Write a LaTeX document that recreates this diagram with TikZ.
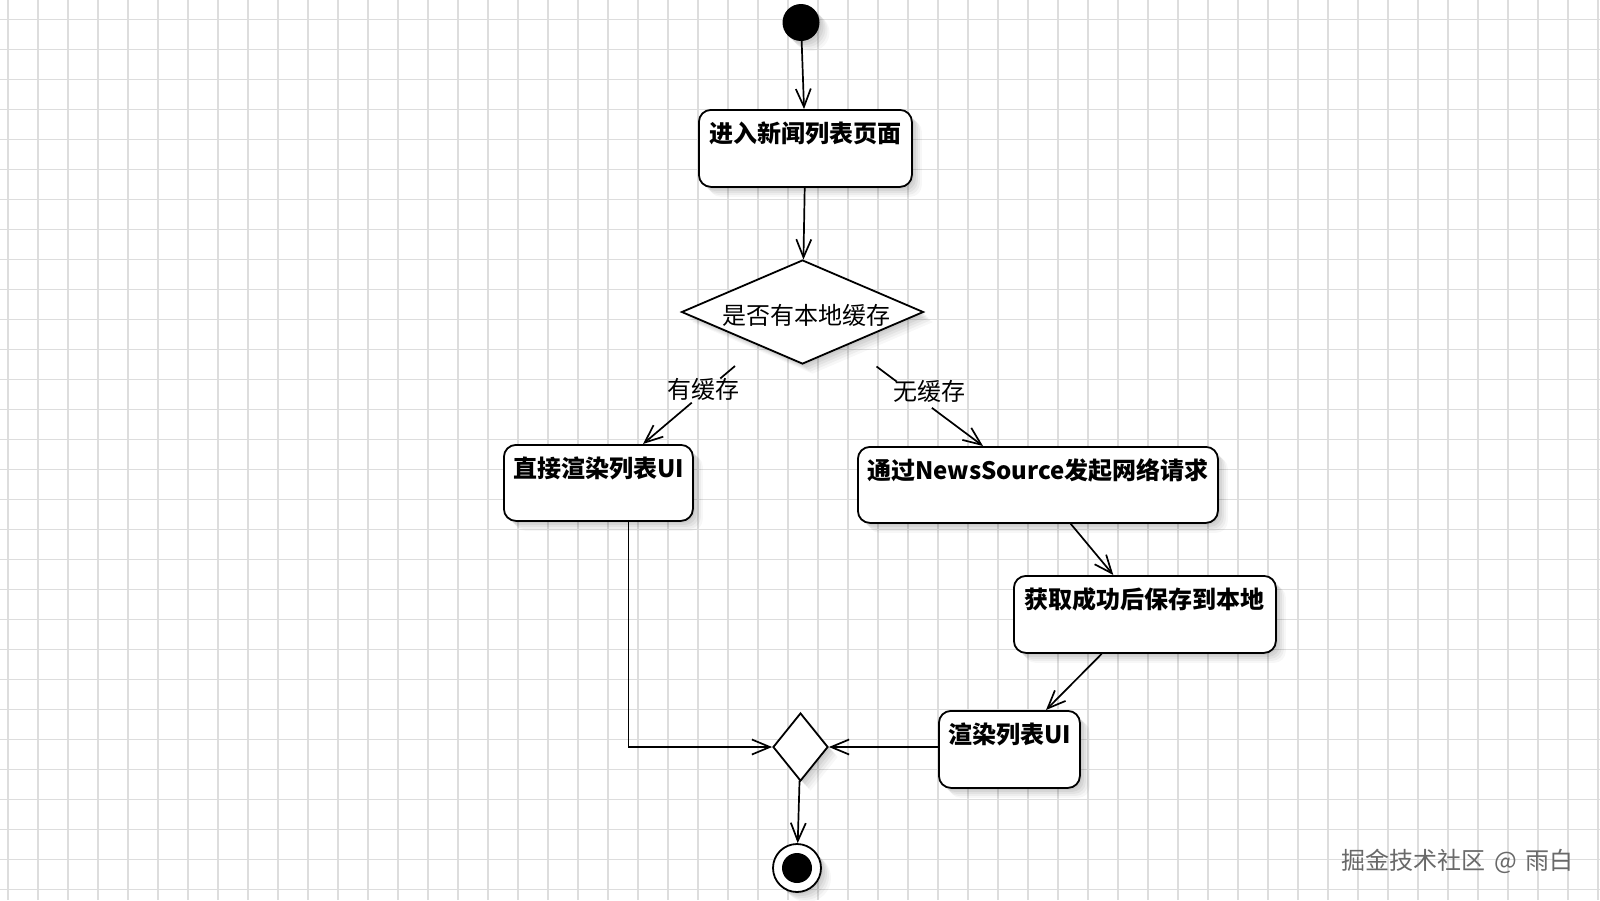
\documentclass[tikz,border=0pt]{standalone}
\usepackage{fontspec}
\setmainfont{Noto Sans CJK SC}
\usetikzlibrary{shapes.geometric,arrows.meta,calc}
\definecolor{gridc}{RGB}{221,221,221}
\definecolor{wmc}{RGB}{105,105,105}
\begin{document}
\begin{tikzpicture}[x=1pt,y=-1pt,
  gridline/.style={draw=gridc,line width=1.6pt},
  softshadow/.style={
    preaction={fill=black,fill opacity=0.05,transform canvas={xshift=2pt,yshift=-2pt}},
    preaction={fill=black,fill opacity=0.05,transform canvas={xshift=4pt,yshift=-4pt}},
    preaction={fill=black,fill opacity=0.045,transform canvas={xshift=6pt,yshift=-6pt}},
    preaction={fill=black,fill opacity=0.04,transform canvas={xshift=8pt,yshift=-8pt}},
    preaction={fill=black,fill opacity=0.03,transform canvas={xshift=10pt,yshift=-10pt}}},
  stbox/.style={draw,line width=1.8pt,rounded corners=12pt,fill=white,softshadow,
    anchor=north west,inner xsep=0pt,inner ysep=0pt,
    font=\bfseries\fontsize{24}{28}\selectfont,text height=33pt},
  dia/.style={diamond,draw,line width=1.8pt,fill=white,softshadow,inner sep=0pt},
  edge/.style={draw,line width=1.7pt},
  arr/.style={-{Straight Barb[length=18pt,width=15pt]}},
  lab/.style={font=\fontsize{24}{28}\selectfont,inner sep=0pt}]
\useasboundingbox (0,0) rectangle (1600,900);
\fill[white] (0,0) rectangle (1600,900);
% grid
\foreach \i in {0,...,53} \draw[gridline] (7.7+30*\i,0) -- (7.7+30*\i,900);
\foreach \j in {0,...,29} \draw[gridline] (0,19.3+30*\j) -- (1600,19.3+30*\j);

% nodes
\node[circle,fill=black,softshadow,minimum size=37pt,inner sep=0pt] (st) at (801,22.5) {};
\node[stbox,minimum width=213pt,text depth=44pt] (b1) at (698,109) {进入新闻列表页面};
\node[dia,minimum width=242pt,minimum height=104pt] (d1) at (802.5,312) {};
\node[lab] (d1t) at (806.5,315) {是否有本地缓存};
\node[stbox,minimum width=189pt,text depth=43pt] (b2) at (503,444) {直接渲染列表UI};
\node[stbox,minimum width=360pt,text depth=43pt] (b3) at (857,446) {通过NewsSource发起网络请求};
\node[stbox,minimum width=262pt,text depth=44pt] (b4) at (1013,575) {获取成功后保存到本地};
\node[stbox,minimum width=141pt,text depth=44pt] (b5) at (938,710) {渲染列表UI};
\node[dia,minimum width=55pt,minimum height=68pt] (d2) at (800.5,747) {};
\node[circle,draw,line width=1.8pt,fill=white,softshadow,minimum size=48pt,inner sep=0pt] (en) at (797,868) {};
\node[circle,fill=black,minimum size=30pt,inner sep=0pt] (enin) at (en) {};

% labels
\node[lab] (l1) at (703,389) {有缓存};
\node[lab] (l2) at (929,391) {无缓存};

% connectors
\draw[edge,arr] (st) -- (b1);
\draw[edge,arr] (b1) -- (d1);
\coordinate (y1s) at (735,366);
\coordinate (y1e) at ([xshift=140pt]b2.north west);
\draw[edge] (y1s) -- ($(y1s)!0.16!(y1e)$);
\draw[edge,arr] ($(y1s)!0.47!(y1e)$) -- (y1e);
\coordinate (n1s) at (876.5,366.5);
\coordinate (n1e) at ([xshift=126pt]b3.north west);
\draw[edge] (n1s) -- ($(n1s)!0.19!(n1e)$);
\draw[edge,arr] ($(n1s)!0.52!(n1e)$) -- (n1e);
\draw[edge,arr] ([xshift=213.7pt]b3.south west) -- ([xshift=100.3pt]b4.north west);
\draw[edge,arr] ([xshift=88.7pt]b4.south west) -- ([xshift=108pt]b5.north west);
\draw[edge,arr] ([xshift=125.5pt]b2.south west) |- (d2.west);
\draw[edge,arr] (b5.west |- d2.east) -- (d2.east);
\draw[edge,arr] (d2) -- (en);

% watermark
\node[anchor=west,font=\fontsize{24}{28}\selectfont,text=wmc,inner sep=0pt] (wm) at (1341.7,861) {掘金技术社区\hspace{9pt}@\hspace{8pt}雨白};
\end{tikzpicture}
\end{document}
